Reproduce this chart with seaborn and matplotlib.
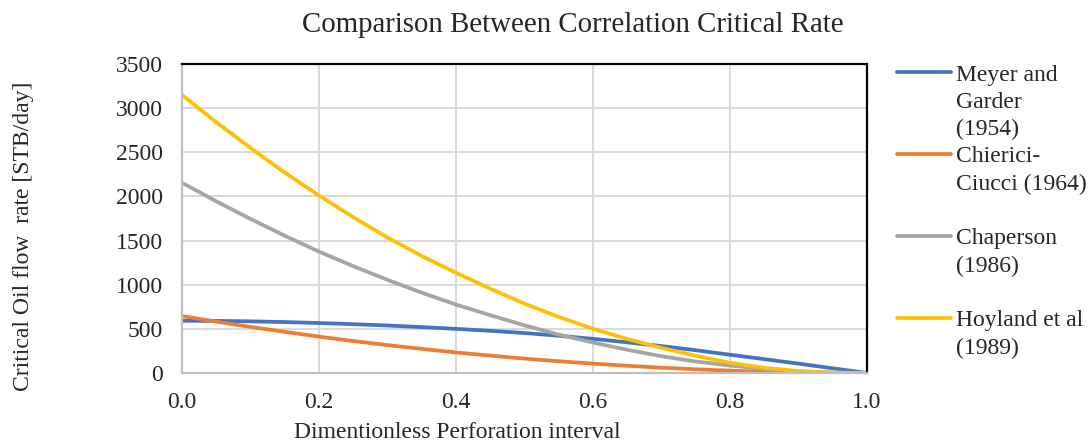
import numpy as np
import pandas as pd
import matplotlib
matplotlib.use("Agg")
import matplotlib.pyplot as plt
from matplotlib.lines import Line2D
import seaborn as sns

# ---- data ----
x_vals = [0.00, 0.05, 0.10, 0.15, 0.20, 0.25, 0.30, 0.35, 0.40, 0.45, 0.50,
          0.55, 0.60, 0.65, 0.70, 0.75, 0.80, 0.85, 0.90, 0.95, 1.00]
meyer = [592, 590, 585, 577, 566, 553, 538, 520, 500, 478, 453,
         422, 387, 347, 305, 258, 207, 157, 106, 53, 0]
chierici = [645, 582, 522, 466, 412, 362, 316, 273, 233, 197, 163,
            133, 106, 82, 60, 42, 26, 14, 6, 1, 0]
chaperson = [2155, 1945, 1745, 1555, 1375, 1210, 1055, 910, 775, 655, 540,
             435, 345, 263, 190, 130, 85, 45, 18, 4, 0]
hoyland = [3150, 2840, 2550, 2270, 2010, 1765, 1535, 1325, 1135, 955, 785,
           635, 500, 385, 285, 195, 115, 58, 22, 5, 0]

series_names = ["Meyer and Garder (1954)", "Chierici-Ciucci (1964)",
                "Chaperson (1986)", "Hoyland et al (1989)"]
# legend text as wrapped in the reference (rows)
legend_rows = [["Meyer and", "Garder", "(1954)"],
               ["Chierici-", "Ciucci (1964)", " "],
               ["Chaperson", "(1986)", " "],
               ["Hoyland et al", "(1989)"]]
colors = ["#4472C4", "#ED7D31", "#A5A5A5", "#FFC000"]
x_ticks = [0.0, 0.2, 0.4, 0.6, 0.8, 1.0]
y_ticks = [0, 500, 1000, 1500, 2000, 2500, 3000, 3500]

title = "Comparison Between Correlation Critical Rate"
xlabel = "Dimentionless Perforation interval"
ylabel = "Critical Oil flow  rate [STB/day]"

frames = []
for name, vals in zip(series_names, [meyer, chierici, chaperson, hoyland]):
    frames.append(pd.DataFrame({"x": x_vals, "y": vals, "series": name}))
df = pd.concat(frames, ignore_index=True)

# ---- style ----
sns.set_style("white")
plt.rcParams["font.family"] = ["Liberation Serif", "DejaVu Serif"]
FS = 17
LW = 2.7

fig = plt.figure(figsize=(10.91, 4.41), dpi=100)
ax = fig.add_axes([182/1091, 1-373/441, (867-182)/1091, (373-64)/441])

sns.lineplot(data=df, x="x", y="y", hue="series", hue_order=series_names,
             palette=colors, linewidth=LW, ax=ax, legend=False, sort=True)

ax.set_xlim(0, 1)
ax.set_ylim(0, 3500)
ax.set_xticks(x_ticks)
ax.set_yticks(y_ticks)
ax.set_xticklabels([f"{t:.1f}" for t in x_ticks], fontsize=FS)
ax.set_yticklabels([str(t) for t in y_ticks], fontsize=FS)
ax.tick_params(axis="both", length=0)
ax.tick_params(axis="y", pad=13.5)
ax.tick_params(axis="x", pad=14)
ax.grid(True, color="#D9D9D9", linewidth=1.4)
ax.set_axisbelow(True)
ax.set_xlabel("")
ax.set_ylabel("")
for side in ["top", "right"]:
    ax.spines[side].set_color("black")
    ax.spines[side].set_linewidth(1.6)
for side in ["left", "bottom"]:
    ax.spines[side].set_color("#BFBFBF")
    ax.spines[side].set_linewidth(1.6)

fig.text(573/1091, 1-25/441, title, ha="center", va="center", fontsize=20.8)
fig.text(457/1091, 1-432/441, xlabel, ha="center", va="center", fontsize=FS)
fig.text(24/1091, 1-236/441, ylabel, ha="center", va="center",
         rotation=90, fontsize=FS)

# legend: one row per wrapped text line, key on the first line of each entry
series_lines = ax.get_lines()[:4]
handles, labels = [], []
for line, rows in zip(series_lines, legend_rows):
    for i, r in enumerate(rows):
        if i == 0:
            handles.append(Line2D([], [], color=line.get_color(), linewidth=LW))
        else:
            handles.append(Line2D([], [], color="none", linewidth=0))
        labels.append(r)
leg = ax.legend(handles, labels, loc="upper left",
                bbox_to_anchor=(897/1091, 1-64/441), bbox_transform=fig.transFigure,
                frameon=False, fontsize=FS, handlelength=2.29, handletextpad=0.21,
                labelspacing=0.245, borderpad=0, borderaxespad=0)

fig.savefig("out.png", dpi=100)
